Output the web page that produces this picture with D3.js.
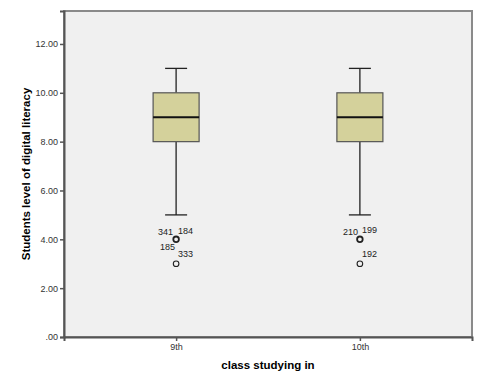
<!DOCTYPE html>
<html>
<head>
<meta charset="utf-8">
<script src="https://cdn.jsdelivr.net/npm/d3@7"></script>
<style>
  body { margin: 0; background: #fff; }
  text { font-family: Arial, "Liberation Sans", sans-serif; }
</style>
</head>
<body>
<div id="chart"></div>
<script>
const classes = ["9th", "10th"];
const lowWhisker = [5, 5];
const q1 = [8, 8];
const medians = [9, 9];
const q3 = [10, 10];
const highWhisker = [11, 11];
const yTicks = [0, 2, 4, 6, 8, 10, 12];

// outliers: class, value, case labels with label offsets
const outliers = [
  { c: "9th", v: 4 }, { c: "9th", v: 3 },
  { c: "10th", v: 4 }, { c: "10th", v: 3 }
];
const outlierLabels = [
  { c: "9th", v: 4, label: "341", dx: -18, dy: -4 },
  { c: "9th", v: 4, label: "184", dx: 2, dy: -5 },
  { c: "9th", v: 4, label: "185", dx: -16, dy: 11 },
  { c: "9th", v: 3, label: "333", dx: 2, dy: -7 },
  { c: "10th", v: 4, label: "210", dx: -17, dy: -4 },
  { c: "10th", v: 4, label: "199", dx: 2, dy: -6 },
  { c: "10th", v: 3, label: "192", dx: 2, dy: -7 }
];

const width = 500, height = 375;
const margin = { top: 11, right: 28, bottom: 38, left: 64 };
const innerW = width - margin.left - margin.right;
const innerH = height - margin.top - margin.bottom;

const svg = d3.select("#chart").append("svg")
  .attr("width", width).attr("height", height);

const g = svg.append("g")
  .attr("transform", `translate(${margin.left},${margin.top})`);

const x = d3.scalePoint().domain(classes).range([0, innerW]).padding(0.61);
const y = d3.scaleLinear().domain([0, 13.35]).range([innerH, 0]);

g.append("rect")
  .attr("width", innerW).attr("height", innerH)
  .attr("fill", "#f0f0f0")
  .attr("stroke", "#8a8a8a")
  .attr("stroke-width", 2);

const yAxis = g.append("g")
  .call(d3.axisLeft(y).tickValues(yTicks).tickSize(4).tickPadding(2)
    .tickFormat(d => d === 0 ? ".00" : d3.format(".2f")(d)));
yAxis.select(".domain").attr("stroke", "#555").attr("stroke-width", 2);
yAxis.selectAll(".tick line").attr("stroke", "#555").attr("stroke-width", 1.5);
yAxis.selectAll("text").attr("font-size", 9).attr("fill", "#333");

const xAxis = g.append("g")
  .attr("transform", `translate(0,${innerH})`)
  .call(d3.axisBottom(x).tickSize(4).tickPadding(3));
xAxis.select(".domain").attr("stroke", "#555").attr("stroke-width", 2);
xAxis.selectAll(".tick line").attr("stroke", "#555").attr("stroke-width", 1.5);
xAxis.selectAll("text").attr("font-size", 9).attr("fill", "#333");

const boxW = 46, capW = 22;
const boxes = classes.map((c, i) => ({
  c, lo: lowWhisker[i], q1: q1[i], med: medians[i], q3: q3[i], hi: highWhisker[i]
}));

const bg = g.selectAll(".box").data(boxes).join("g").attr("class", "box");

bg.append("line")
  .attr("x1", d => x(d.c)).attr("x2", d => x(d.c))
  .attr("y1", d => y(d.hi)).attr("y2", d => y(d.q3))
  .attr("stroke", "#222").attr("stroke-width", 1.3);
bg.append("line")
  .attr("x1", d => x(d.c)).attr("x2", d => x(d.c))
  .attr("y1", d => y(d.q1)).attr("y2", d => y(d.lo))
  .attr("stroke", "#222").attr("stroke-width", 1.3);
bg.selectAll(".cap").data(d => [[d.c, d.hi], [d.c, d.lo]]).join("line")
  .attr("class", "cap")
  .attr("x1", d => x(d[0]) - capW / 2).attr("x2", d => x(d[0]) + capW / 2)
  .attr("y1", d => y(d[1])).attr("y2", d => y(d[1]))
  .attr("stroke", "#222").attr("stroke-width", 1.3);
bg.append("rect")
  .attr("x", d => x(d.c) - boxW / 2).attr("width", boxW)
  .attr("y", d => y(d.q3)).attr("height", d => y(d.q1) - y(d.q3))
  .attr("fill", "#d4d19b").attr("stroke", "#555").attr("stroke-width", 1.2);
bg.append("line")
  .attr("x1", d => x(d.c) - boxW / 2).attr("x2", d => x(d.c) + boxW / 2)
  .attr("y1", d => y(d.med)).attr("y2", d => y(d.med))
  .attr("stroke", "#111").attr("stroke-width", 2);

g.selectAll(".outlier").data(outliers).join("circle")
  .attr("class", "outlier")
  .attr("cx", d => x(d.c)).attr("cy", d => y(d.v))
  .attr("r", 2.8)
  .attr("fill", "none")
  .attr("stroke", "#222")
  .attr("stroke-width", d => d.v === 4 ? 1.8 : 1.1);

g.selectAll(".olabel").data(outlierLabels).join("text")
  .attr("class", "olabel")
  .attr("x", d => x(d.c) + d.dx).attr("y", d => y(d.v) + d.dy)
  .attr("font-size", 9).attr("fill", "#222")
  .text(d => d.label);

svg.append("text")
  .attr("x", margin.left + innerW / 2).attr("y", 369)
  .attr("text-anchor", "middle")
  .attr("font-size", 11.5).attr("font-weight", "bold")
  .text("class studying in");

svg.append("text")
  .attr("transform", "translate(30,174) rotate(-90)")
  .attr("text-anchor", "middle")
  .attr("font-size", 11.5).attr("font-weight", "bold")
  .text("Students level of digital literacy");
</script>
</body>
</html>
